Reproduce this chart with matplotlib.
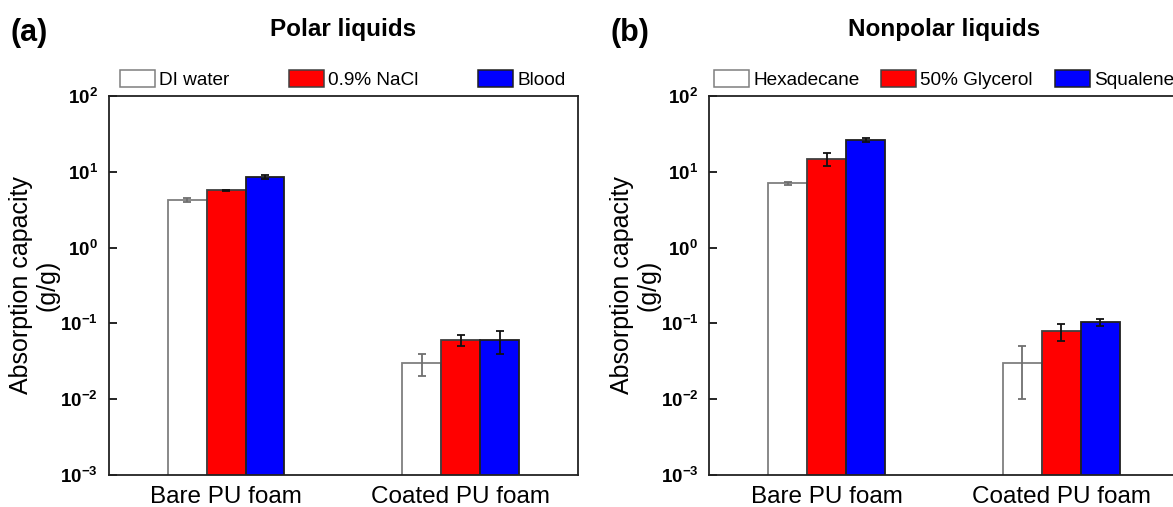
import matplotlib
matplotlib.use("Agg")
import matplotlib.pyplot as plt
import numpy as np
from matplotlib.ticker import FixedLocator, FuncFormatter, NullLocator
from matplotlib.patches import Patch
from matplotlib.legend import Legend

plt.rcParams['font.family'] = ['Liberation Sans', 'DejaVu Sans']
plt.rcParams['mathtext.fontset'] = 'custom'
plt.rcParams['mathtext.rm'] = 'Liberation Sans'
plt.rcParams['mathtext.bf'] = 'Liberation Sans:bold'

# data
groups = ["Bare PU foam", "Coated PU foam"]

polar_names = ["DI water", "0.9% NaCl", "Blood"]
polar_vals = [[4.2, 0.030], [5.7, 0.060], [8.6, 0.060]]
polar_err = [[0.25, 0.010], [0.10, 0.0095], [0.5, 0.020]]

nonpolar_names = ["Hexadecane", "50% Glycerol", "Squalene"]
nonpolar_vals = [[7.05, 0.030], [14.9, 0.079], [26.3, 0.1035]]
nonpolar_err = [[0.4, 0.020], [3.0, 0.020], [1.3, 0.012]]

colors = ["white", "#ff0000", "#0000ff"]
edges = ["#7f7f7f", "#404040", "#202020"]
err_colors = ["#6f6f6f", "#111111", "#111111"]


def draw(ax, names, vals, errs, title, tag, leg_x):
    x = np.arange(len(groups))
    w = 0.166
    for i in range(3):
        ax.bar(x + (i - 1) * w, vals[i], w, color=colors[i], edgecolor=edges[i],
               linewidth=1.3, zorder=2)
        ax.errorbar(x + (i - 1) * w, vals[i], yerr=errs[i], fmt="none",
                    ecolor=err_colors[i], elinewidth=1.3, capsize=2.6, capthick=1.3, zorder=3)
    ax.set_yscale("log")
    ax.set_ylim(1e-3, 1e2)
    ax.set_xlim(-0.5, 1.5)
    ax.yaxis.set_major_locator(FixedLocator([1e-3, 1e-2, 1e-1, 1, 10, 100]))
    ax.yaxis.set_minor_locator(NullLocator())
    ax.yaxis.set_major_formatter(FuncFormatter(
        lambda v, p: r"$\mathbf{10^{%d}}$" % round(np.log10(v))))
    ax.tick_params(axis="y", direction="in", length=6, width=1.2, labelsize=13.5, pad=8)
    ax.set_xticks(x)
    ax.set_xticklabels(groups, fontsize=17.5)
    ax.tick_params(axis="x", length=0, pad=8)
    for s in ax.spines.values():
        s.set_linewidth(1.3)
        s.set_color("#222222")
    ax.set_ylabel("Absorption capacity\n(g/g)", fontsize=18, labelpad=0, linespacing=1.15)

    # one legend per entry, placed like the original
    for i in range(3):
        h = Patch(facecolor=colors[i], edgecolor=edges[i], linewidth=1.1)
        lg = Legend(ax, [h], [names[i]], loc="lower left", bbox_to_anchor=(leg_x[i], 1.018),
                    frameon=False, fontsize=13.7, handlelength=1.85, handleheight=1.0,
                    handletextpad=0.2, borderaxespad=0.0, borderpad=0.0)
        ax.add_artist(lg)
    ax.text(0.5, 1.175, title, transform=ax.transAxes, ha="center", va="center",
            fontsize=17.5, fontweight="bold")
    ax.text(-0.21, 1.165, tag, transform=ax.transAxes, ha="left", va="center",
            fontsize=22, fontweight="bold")


fig = plt.figure(figsize=(11.73, 5.07), dpi=100)
ax1 = fig.add_axes([0.0927, 0.0631, 0.4001, 0.7475])
ax2 = fig.add_axes([0.6047, 0.0631, 0.4001, 0.7475])

draw(ax1, polar_names, polar_vals, polar_err, "Polar liquids", "(a)", [0.024, 0.384, 0.787])
draw(ax2, nonpolar_names, nonpolar_vals, nonpolar_err, "Nonpolar liquids", "(b)", [0.010, 0.366, 0.737])

fig.savefig("out.png", dpi=100)
